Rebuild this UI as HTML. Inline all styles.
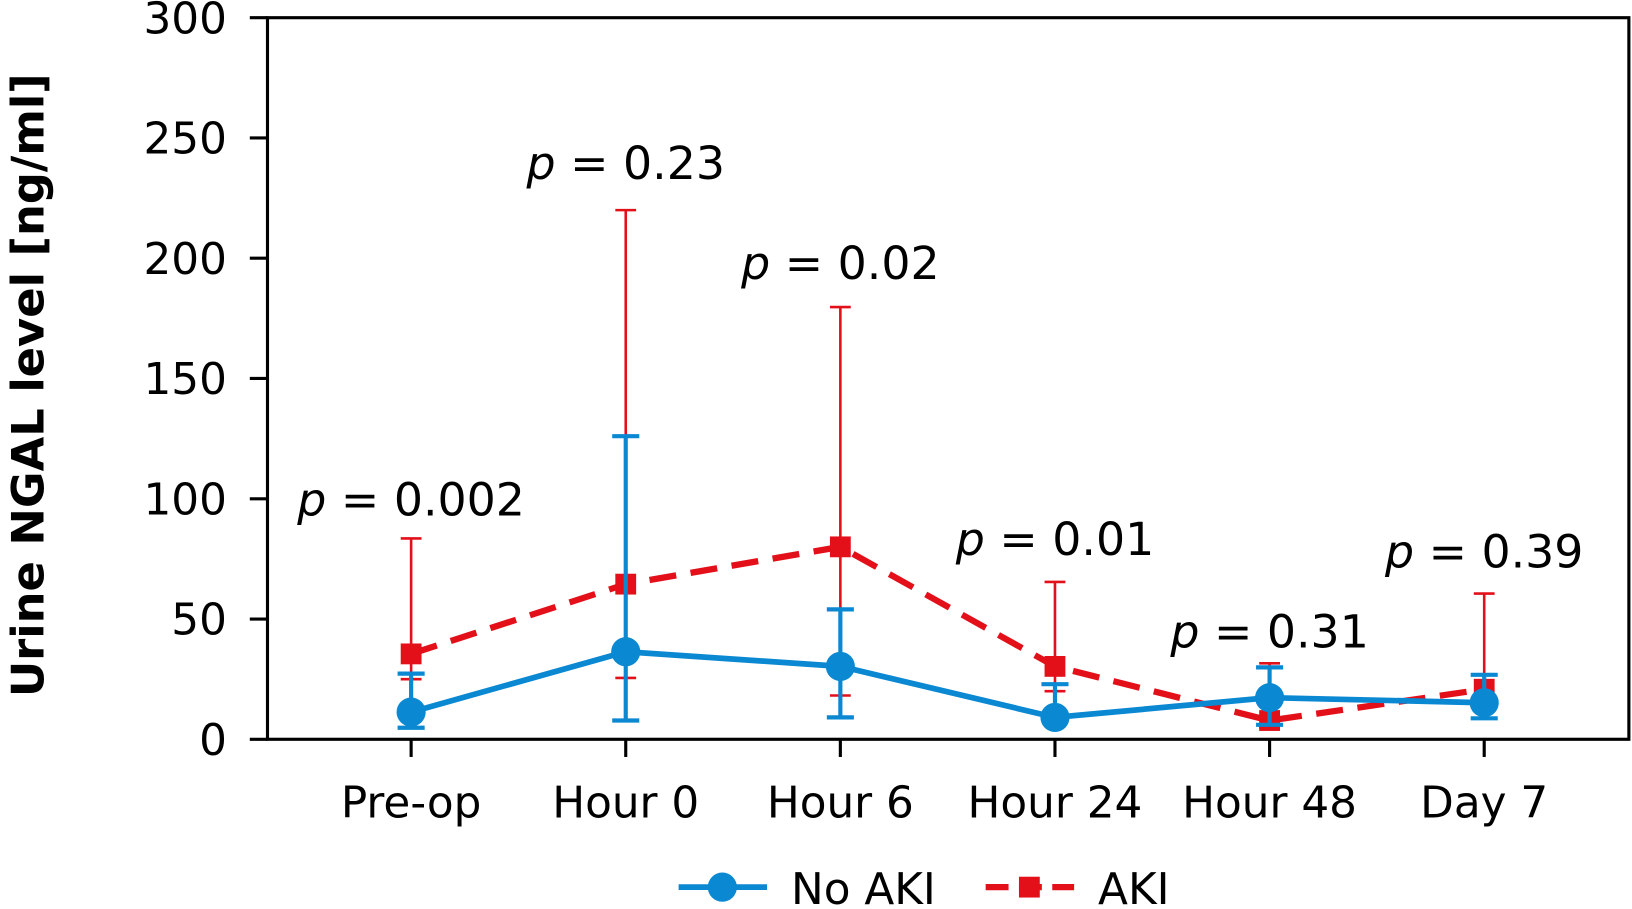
<!DOCTYPE html>
<html><head><meta charset="utf-8"><style>
html,body{margin:0;padding:0;background:#fff;}
svg{display:block;font-family:"DejaVu Sans","Liberation Sans",sans-serif;}
</style></head><body>
<svg id="chart" width="1632" height="909" viewBox="0 0 1568 873" preserveAspectRatio="none" xmlns="http://www.w3.org/2000/svg">
</svg>
<script>
const categories = ["Pre-op","Hour 0","Hour 6","Hour 24","Hour 48","Day 7"];
const noAkiMean = [11.3, 36.4, 30.3, 9.1, 17.3, 15.2];
const noAkiLow = [4.8, 7.8, 9.1, 9.1, 6, 8.7];
const noAkiHigh = [27.3, 126, 54, 22.9, 29.9, 26.8];
const akiMean = [35.5, 64.5, 80, 30.3, 7.8, 20.8];
const akiLow = [25, 25.5, 18.2, 20, 5, 15];
const akiHigh = [83.5, 220, 179.7, 65.4, 31.6, 60.6];
const pLabels = ["0.002","0.23","0.02","0.01","0.31","0.39"];
const pLabelY = [495, 172, 268, 533, 622, 545];
const yTicks = [0,50,100,150,200,250,300];

const L=257,R=1565,T=17,B=710;
const xS=i=>395+i*206.2;
const yS=v=>B-(v/300)*(B-T);
const NS="http://www.w3.org/2000/svg";
const svg=document.getElementById('chart');
function mk(tag,attrs,parent){const e=document.createElementNS(NS,tag);for(const k in attrs)e.setAttribute(k,attrs[k]);(parent||svg).appendChild(e);return e;}

let frame=mk('rect',{x:L,y:T,width:R-L,height:B-T,fill:'none',stroke:'#000','stroke-width':3});



yTicks.forEach(v=>{
  const t=mk('line',{x1:240,x2:L,y1:yS(v),y2:yS(v),stroke:'#000','stroke-width':3});
  
  
  const tx=mk('text',{x:218,y:yS(v)+15,'text-anchor':'end','font-size':42,fill:'#000'});
  tx.textContent=v;
  
  
});
categories.forEach((c,i)=>{
  const t=mk('line',{x1:xS(i),x2:xS(i),y1:B,y2:B+17,stroke:'#000','stroke-width':3});
  
  
  const tx=mk('text',{x:xS(i),y:785,'text-anchor':'middle','font-size':42,fill:'#000'});
  tx.textContent=c;
  
  
});
const yt=mk('text',{x:0,y:0,transform:'translate(42,370) rotate(-90)','text-anchor':'middle','font-size':43,'font-weight':'bold',fill:'#000'});
yt.textContent='Urine NGAL level [ng/ml]';



const BLUE='#0a88d2',RED='#e3101a';
categories.forEach((c,i)=>{
  const x=xS(i);
  const g=mk('g',{stroke:RED,'stroke-width':2.5});
  
  
  mk('line',{x1:x,x2:x,y1:yS(akiLow[i]),y2:yS(akiHigh[i])},g);
  mk('line',{x1:x-10,x2:x+10,y1:yS(akiLow[i]),y2:yS(akiLow[i])},g);
  mk('line',{x1:x-10,x2:x+10,y1:yS(akiHigh[i]),y2:yS(akiHigh[i])},g);
});
const akiLine=mk('polyline',{points:akiMean.map((v,i)=>xS(i)+','+yS(v)).join(' '),fill:'none',stroke:RED,'stroke-width':6,'stroke-dasharray':'26 14'});


akiMean.forEach((v,i)=>{
  const s=mk('rect',{x:xS(i)-10,y:yS(v)-10,width:20,height:20,fill:RED});
  
  
});
categories.forEach((c,i)=>{
  const x=xS(i);
  const g=mk('g',{stroke:BLUE,'stroke-width':4});
  
  
  mk('line',{x1:x,x2:x,y1:yS(noAkiLow[i]),y2:yS(noAkiHigh[i])},g);
  mk('line',{x1:x-13,x2:x+13,y1:yS(noAkiLow[i]),y2:yS(noAkiLow[i])},g);
  mk('line',{x1:x-13,x2:x+13,y1:yS(noAkiHigh[i]),y2:yS(noAkiHigh[i])},g);
});
const nLine=mk('polyline',{points:noAkiMean.map((v,i)=>xS(i)+','+yS(v)).join(' '),fill:'none',stroke:BLUE,'stroke-width':5.5});


noAkiMean.forEach((v,i)=>{
  const s=mk('circle',{cx:xS(i),cy:yS(v),r:14,fill:BLUE});
  
  
});
pLabels.forEach((p,i)=>{
  const tx=mk('text',{x:xS(i),y:pLabelY[i],'text-anchor':'middle','font-size':44,fill:'#000'});
  const ti=mk('tspan',{'font-style':'italic'},tx); ti.textContent='p';
  const tr=mk('tspan',{},tx); tr.textContent=' = '+p;
  
  
});
const lg=mk('g',{});


const l1=mk('g',{},lg);


mk('line',{x1:652,x2:737,y1:852,y2:852,stroke:BLUE,'stroke-width':5.5},l1);
mk('circle',{cx:694,cy:852,r:14,fill:BLUE},l1);
const lt1=mk('text',{x:760,y:868,'font-size':42,fill:'#000'},l1); lt1.textContent='No AKI';
const l2=mk('g',{},lg);


mk('line',{x1:947,x2:1032,y1:852,y2:852,stroke:RED,'stroke-width':6,'stroke-dasharray':'22 10'},l2);
mk('rect',{x:979,y:842,width:20,height:20,fill:RED},l2);
const lt2=mk('text',{x:1055,y:868,'font-size':42,fill:'#000'},l2); lt2.textContent='AKI';
</script>
</body></html>
